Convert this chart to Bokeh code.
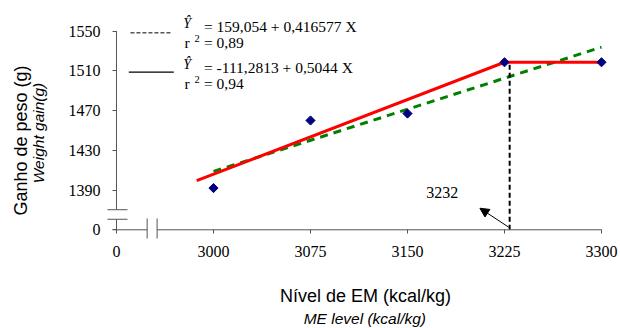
import math
from bokeh.plotting import figure
from bokeh.models import Range1d, FixedTicker, LinearAxis, Label, Arrow, NormalHead
from bokeh.embed import file_html
from bokeh.resources import INLINE

# ---------------- data ----------------
energy_levels = [3000, 3075, 3150, 3225, 3300]          # kcal/kg
weight_gain = [1392, 1460, 1467, 1518.6, 1518.6]        # g

linear_x = [3000, 3300]
linear_y = [1408.8, 1533.8]                             # Y = 159,054 + 0,416577 X

plateau_x = [2987, 3225, 3300]
plateau_y = [1399.5, 1518.6, 1518.6]                    # Y = -111,2813 + 0,5044 X, plateau

break_point_x = 3229
break_point_label = "3232"

x_ticks = [2925, 3000, 3075, 3150, 3225, 3300]
x_tick_labels = ["0", "3000", "3075", "3150", "3225", "3300"]
y_ticks = [1350, 1390, 1430, 1470, 1510, 1550]
y_tick_labels = ["0", "1390", "1430", "1470", "1510", "1550"]

eq_linear = "= 159,054 + 0,416577 X"
r2_linear = "= 0,89"
eq_plateau = "= -111,2813 + 0,5044 X"
r2_plateau = "= 0,94"

# axis break positions (data units)
x_break = (2948.7, 2956.4)
y_break = (1360.6, 1370.2)

AXIS = "#555555"
SERIF = "Liberation Serif"
SANS = "Liberation Sans"

x0, x1 = x_ticks[0], x_ticks[-1]
y0, y1 = y_ticks[0], y_ticks[-1]

# the frame covers the whole canvas; the broken axes are drawn at fixed locations
p = figure(width=620, height=328,
           x_range=Range1d(2835.31, 3314.70),
           y_range=Range1d(1250.68, 1580.75),
           output_backend="svg", toolbar_location=None,
           min_border=0, min_border_left=0, min_border_right=0,
           min_border_top=0, min_border_bottom=0)
p.outline_line_color = None
p.grid.visible = False
p.background_fill_color = "white"
p.border_fill_color = "white"

xa, ya = p.xaxis[0], p.yaxis[0]
xa.fixed_location = y0
ya.fixed_location = x0
xa.bounds = (x0, 3310)
ya.bounds = (1344.8, y1)
for ax, ticks, labels in ((xa, x_ticks, x_tick_labels), (ya, y_ticks, y_tick_labels)):
    ax.ticker = FixedTicker(ticks=ticks)
    ax.major_label_overrides = {t: l for t, l in zip(ticks, labels)}
    ax.axis_line_color = None
    ax.major_tick_out = 4
    ax.major_tick_in = 0
    ax.minor_tick_line_color = None
    ax.major_tick_line_color = AXIS
    ax.major_label_text_font = SERIF
    ax.major_label_text_font_size = "16px"
    ax.major_label_text_color = "black"
    ax.axis_label_text_font = SANS
    ax.axis_label_text_color = "black"
xa.major_label_standoff = 12
ya.major_label_standoff = 12
xa.axis_label = "Nível de EM (kcal/kg)"
xa.axis_label_text_font_size = "18px"
xa.axis_label_text_font_style = "normal"
xa.axis_label_standoff = 26
ya.axis_label = "Weight gain(g)"
ya.axis_label_text_font_size = "15.5px"
ya.axis_label_text_font_style = "italic"
ya.axis_label_standoff = 19


def title_axis(label, size, style, loc, bounds, standoff):
    return LinearAxis(fixed_location=loc, bounds=bounds, ticker=FixedTicker(ticks=[]),
                      axis_label=label, axis_label_text_font=SANS,
                      axis_label_text_font_size=size, axis_label_text_font_style=style,
                      axis_label_text_color="black", axis_label_standoff=standoff,
                      axis_line_color=None, major_tick_line_color=None,
                      minor_tick_line_color=None, major_tick_out=0, major_tick_in=0,
                      major_label_standoff=0)


p.add_layout(title_axis("ME level  (kcal/kg)", "15.5px", "italic", y0, (x0, 3312.6), 80), "below")
p.add_layout(title_axis("Ganho de peso (g)", "18px", "normal", x0, (1340, 1539.8), 86), "left")


# broken axis lines and break marks
def seg(xs, ys, xe, ye, color=AXIS, width=1, dash="solid"):
    p.add_layout(Arrow(end=None, x_start=xs, y_start=ys, x_end=xe, y_end=ye,
                       line_color=color, line_width=width, line_dash=dash))


seg(x0, y1, x0, y_break[1])
seg(x0, y_break[0], x0, y0 - 3)
seg(x0 - 3, y0, x_break[0], y0)
seg(x_break[1], y0, x1, y0)
for yb in y_break:
    seg(x0 - 7, yb, x0 + 8.5, yb)
for xb in x_break:
    seg(xb, y0 + 11.4, xb, y0 - 8.8)

# series
p.line(linear_x, linear_y, line_color="#008000", line_width=3, line_dash="8 6")
p.line(plateau_x, plateau_y, line_color="#ff0000", line_width=3)
p.line([break_point_x, break_point_x], [y0, plateau_y[1]], line_color="black",
       line_width=2, line_dash="5 3")
p.scatter(energy_levels, weight_gain, marker="square", angle=math.pi / 4,
          size=6.5, fill_color="#000080", line_color="#000080")

# break point annotation
p.add_layout(Label(x=3176.8, y=1387.8, text=break_point_label, text_font=SERIF,
                   text_font_size="16px", text_align="center", text_baseline="middle",
                   text_color="black"))
p.add_layout(Arrow(end=NormalHead(size=9, fill_color="black", line_color="black"),
                   x_start=break_point_x - 0.7, y_start=y0 + 2.6,
                   x_end=3206, y_end=1371.7, line_color="black", line_width=1))

# legend (equations)
seg(2935.8, 1548.2, 2966.8, 1548.2, color="black", width=1, dash="4 2")
seg(2934.5, 1508.6, 2969.3, 1508.6, color="black", width=1.3)


def lab(x, y, text, size="15.5px", style="normal", align="left"):
    p.add_layout(Label(x=x, y=y, text=text, text_font=SERIF, text_font_size=size,
                       text_font_style=style, text_align=align, text_baseline="middle",
                       text_color="black"))


for mid, eq, r2 in ((1554.4, eq_linear, r2_linear), (1513.3, eq_plateau, r2_plateau)):
    lab(2976.6, mid + 3.4, "\u0176", size="14px", style="italic")
    lab(2992.6, mid, eq)
    lab(2977.6, mid - 16.2, "r")
    lab(2987.4, mid - 11.7, "2", size="10.5px", align="center")
    lab(2992.6, mid - 16.2, r2)

open("out.html", "w").write(file_html(p, INLINE))
